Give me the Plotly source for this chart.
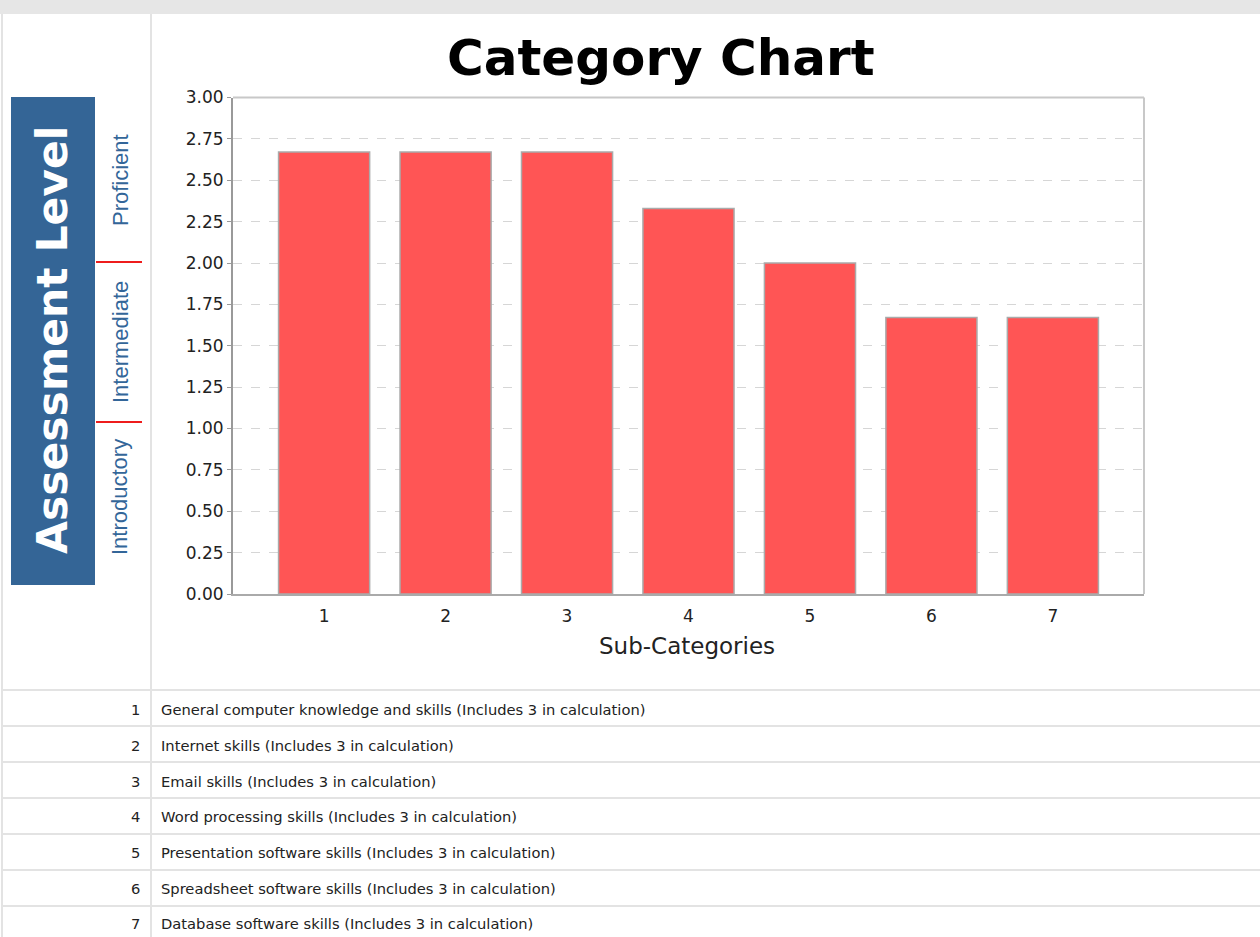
import plotly.graph_objects as go

# ---- data ----
categories = ["1", "2", "3", "4", "5", "6", "7"]
values = [2.67, 2.67, 2.67, 2.33, 2.00, 1.67, 1.67]
descriptions = [
    "General computer knowledge and skills (Includes 3 in calculation)",
    "Internet skills (Includes 3 in calculation)",
    "Email skills (Includes 3 in calculation)",
    "Word processing skills (Includes 3 in calculation)",
    "Presentation software skills (Includes 3 in calculation)",
    "Spreadsheet software skills (Includes 3 in calculation)",
    "Database software skills (Includes 3 in calculation)",
]
level_labels = ["Proficient", "Intermediate", "Introductory"]
y_ticks = [0, 0.25, 0.5, 0.75, 1.0, 1.25, 1.5, 1.75, 2.0, 2.25, 2.5, 2.75, 3.0]

W, H = 1260, 937


def px(x):
    return x / W


def py(y):
    return 1 - y / H


cat_pos = list(range(1, len(categories) + 1))

fig = go.Figure(
    go.Bar(
        x=cat_pos,
        y=values,
        width=0.75,
        marker=dict(color="#ff5555", line=dict(color="#aaaaaa", width=1.5)),
        hoverinfo="skip",
    )
)

shapes = []
annotations = []

# top grey band
shapes.append(dict(type="rect", xref="paper", yref="paper", x0=0, x1=1, y0=py(14), y1=1,
                   fillcolor="#e6e6e6", line=dict(width=0), layer="below"))
# vertical page separators
for xv in (2, 151):
    shapes.append(dict(type="line", xref="paper", yref="paper", x0=px(xv), x1=px(xv),
                       y0=py(937), y1=py(14), line=dict(color="#e3e3e3", width=2), layer="below"))
# table row separators
row_lines = [690, 726, 762, 798, 834, 870, 906]
for yv in row_lines:
    shapes.append(dict(type="line", xref="paper", yref="paper", x0=px(2), x1=1,
                       y0=py(yv), y1=py(yv), line=dict(color="#e3e3e3", width=2), layer="below"))

# plot frame (top/right)
shapes.append(dict(type="line", xref="paper", yref="paper", x0=px(233), x1=px(1144),
                   y0=py(97.5), y1=py(97.5), line=dict(color="#c8c8c8", width=2)))
shapes.append(dict(type="line", xref="paper", yref="paper", x0=px(1144), x1=px(1144),
                   y0=py(594), y1=py(97.5), line=dict(color="#c8c8c8", width=2)))

# blue assessment box
shapes.append(dict(type="rect", xref="paper", yref="paper", x0=px(11), x1=px(95),
                   y0=py(585), y1=py(97), fillcolor="#346596", line=dict(width=0)))
# red separators
for yv in (262, 422):
    shapes.append(dict(type="line", xref="paper", yref="paper", x0=px(96), x1=px(142),
                       y0=py(yv), y1=py(yv), line=dict(color="#ee1c1c", width=2)))

annotations.append(dict(text="<b>Assessment Level</b>", xref="paper", yref="paper",
                        x=px(53), y=py(340), textangle=-90, showarrow=False,
                        xanchor="center", yanchor="middle",
                        font=dict(family="DejaVu Sans", size=42.5, color="white")))
level_y = [180, 342, 497]
for lab, yv in zip(level_labels, level_y):
    annotations.append(dict(text=lab, xref="paper", yref="paper", x=px(120), y=py(yv),
                            textangle=-90, showarrow=False, xanchor="center", yanchor="middle",
                            font=dict(family="Liberation Sans Narrow, Liberation Sans, sans-serif",
                                      size=22, color="#336699")))

# title
annotations.append(dict(text="<b>Category Chart</b>", xref="paper", yref="paper",
                        x=px(661), y=py(58), showarrow=False, xanchor="center", yanchor="middle",
                        font=dict(family="DejaVu Sans", size=50, color="black")))
# x axis title
annotations.append(dict(text="Sub-Categories", xref="paper", yref="paper",
                        x=px(687), y=py(646), showarrow=False, xanchor="center", yanchor="middle",
                        font=dict(family="DejaVu Sans", size=23, color="#222")))

# table text
row_text_y = [709, 745, 781, 816, 852, 888, 923]
for c, d, yv in zip(categories, descriptions, row_text_y):
    annotations.append(dict(text=c, xref="paper", yref="paper", x=px(142), y=py(yv),
                            showarrow=False, xanchor="right", yanchor="middle",
                            font=dict(family="DejaVu Sans", size=14.7, color="#222")))
    annotations.append(dict(text=d, xref="paper", yref="paper", x=px(159), y=py(yv),
                            showarrow=False, xanchor="left", yanchor="middle",
                            font=dict(family="DejaVu Sans", size=14.7, color="#222")))

fig.update_layout(
    template="none",
    width=W, height=H,
    margin=dict(l=0, r=0, t=0, b=0, pad=0, autoexpand=False),
    paper_bgcolor="white", plot_bgcolor="white",
    showlegend=False,
    shapes=shapes,
    annotations=annotations,
    xaxis=dict(domain=[px(233), px(1144)], range=[0.25, 7.75], tickvals=cat_pos,
               ticktext=categories, showgrid=False, showline=True, linecolor="#aaaaaa",
               linewidth=2, ticks="", zeroline=False, fixedrange=True, automargin=False,
               ticklabelstandoff=6,
               tickfont=dict(family="DejaVu Sans", size=17, color="#222")),
    yaxis=dict(domain=[py(594), py(97.5)], range=[0, 3], tickvals=y_ticks, tickformat=".2f",
               showgrid=True, gridcolor="#d6d6d6", griddash="dash", gridwidth=1,
               showline=True, linecolor="#999999", linewidth=2, ticks="outside",
               ticklen=4, tickcolor="#999999", zeroline=False, fixedrange=True,
               automargin=False,
               tickfont=dict(family="DejaVu Sans", size=17, color="#222")),
)

fig.write_html("out.html")
